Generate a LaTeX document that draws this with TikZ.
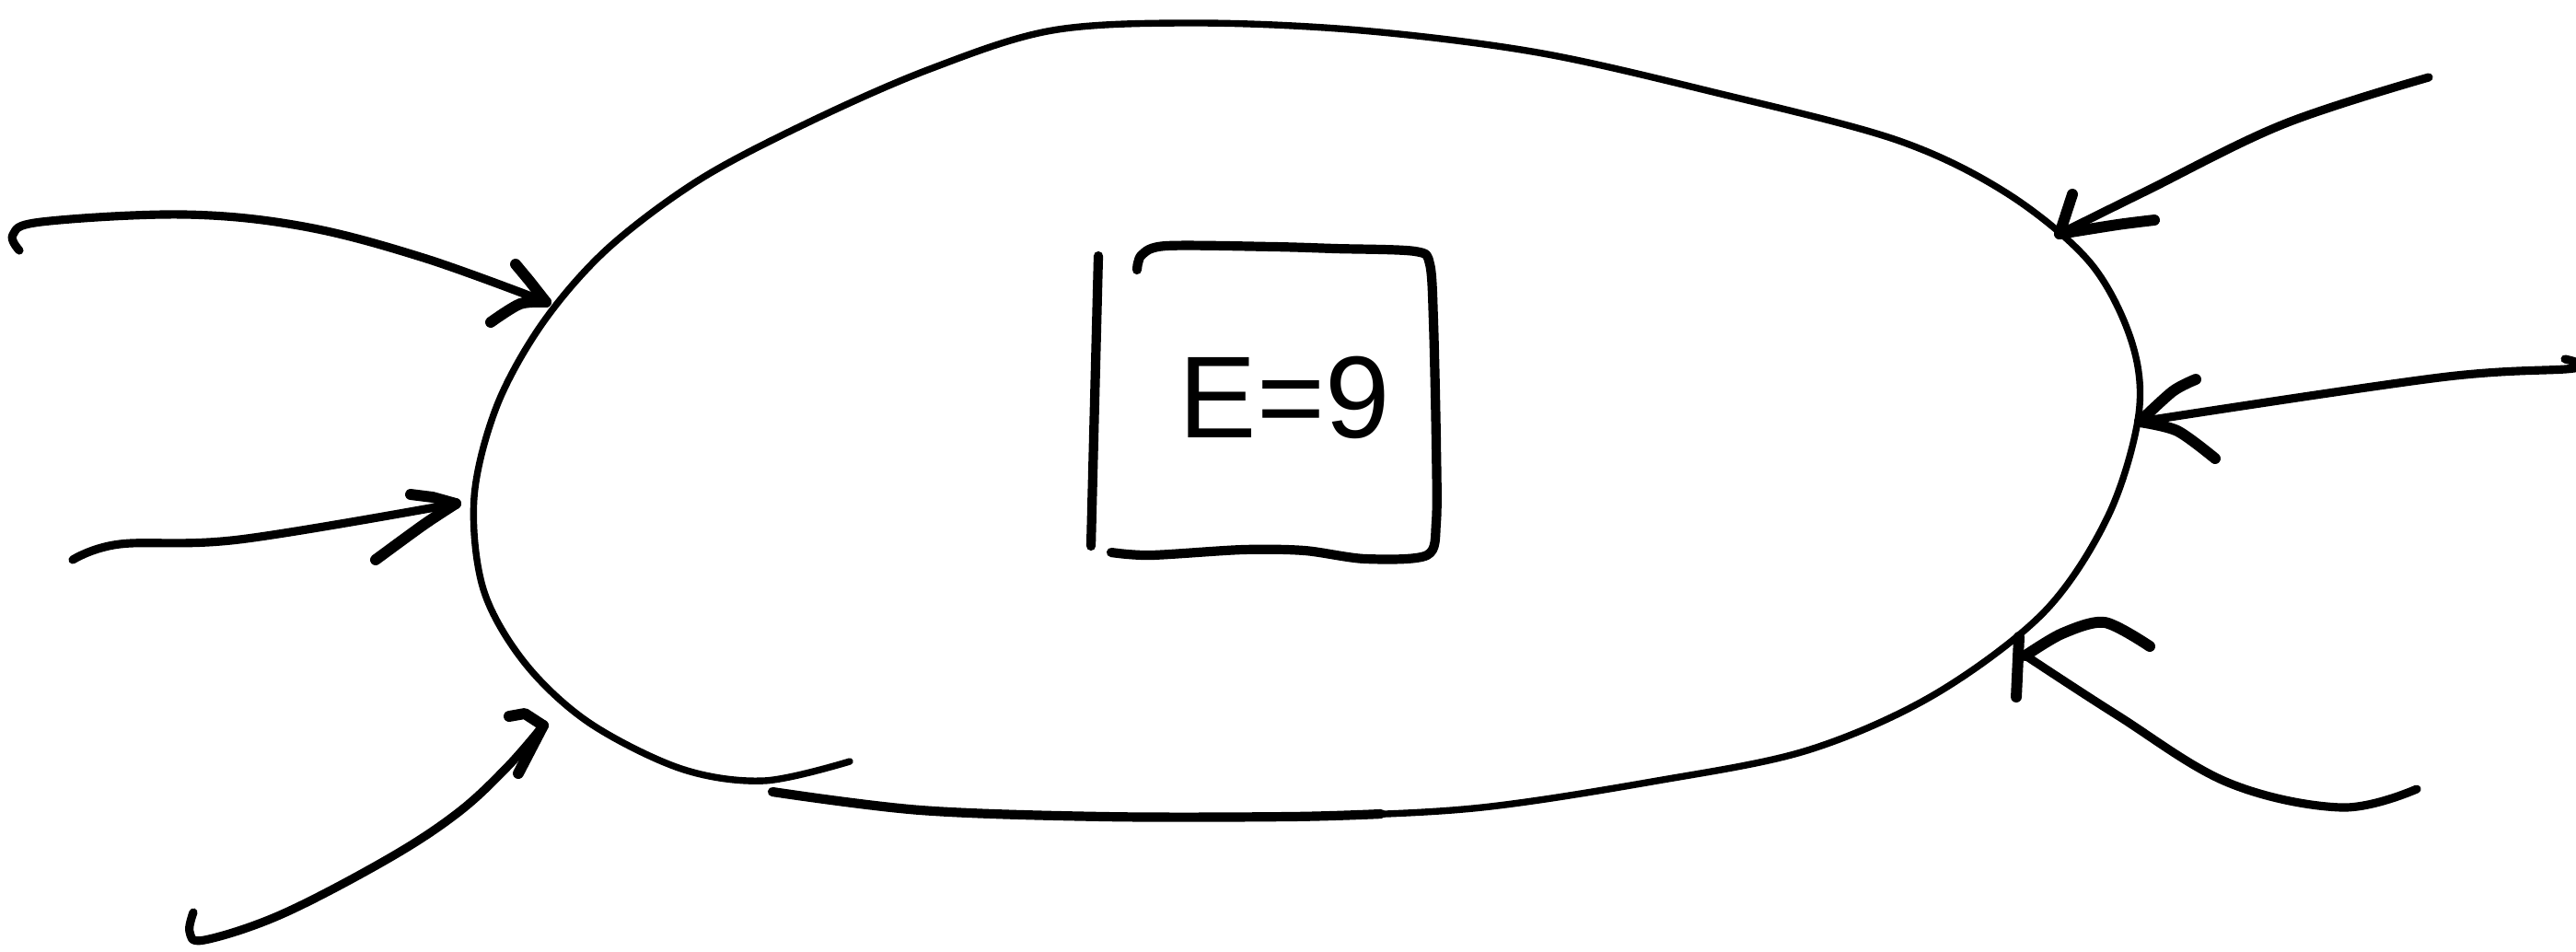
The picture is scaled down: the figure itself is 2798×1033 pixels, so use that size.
\documentclass[tikz,border=0pt]{standalone}
\usepackage{fontspec}
\setsansfont{Liberation Sans}
\begin{document}
\begin{tikzpicture}[x=0.01cm,y=-0.01cm, line cap=round, line join=round,
  blobline/.style={line width=2.1pt},
  thickline/.style={line width=2.9pt},
  arrowline/.style={line width=2.6pt},
  barb/.style={line width=3.4pt},
  boxline/.style={line width=2.9pt},
  eqtext/.style={font=\sffamily\fontsize{36}{40}\selectfont, inner sep=0pt}]
\useasboundingbox (0,0) rectangle (2798,1033);
\fill[white] (0,0) rectangle (2798,1033);

% blob outline
\draw[blobline] plot[smooth, tension=0.55] coordinates {
 (839,860) (1000,880) (1200,887) (1400,887) (1600,878) (1800,848) (1963,815)
 (2100,755) (2220,665) (2290,560) (2323,450) (2315,370) (2270,285) (2180,210)
 (2060,152) (1861,100) (1670,57) (1478,33) (1300,25) (1143,33) (1010,75)
 (880,132) (760,195) (660,270) (590,350) (540,440) (515,540) (525,640)
 (570,720) (640,785) (740,835) (830,848) (923,827)};
\draw[thickline] plot[smooth, tension=0.55] coordinates {
 (839,860) (1000,880) (1200,887) (1400,887) (1500,884)};

% framed equation
\node[eqtext] (eq) at (1395,432) {E=9};
\draw[boxline] (1193,278) -- (1185,593);
\draw[boxline] plot[smooth, tension=0.5] coordinates {
 (1235,293) (1240,277) (1267,267) (1383,268) (1450,270) (1537,273) (1553,287)
 (1557,350) (1560,483) (1560,567) (1550,603) (1483,607) (1417,598) (1350,597)
 (1250,603) (1207,600)};

% arrow 1 (upper left)
\coordinate (s1) at (21,272);
\coordinate (t1) at (593,328);
\draw[arrowline] plot[smooth, tension=0.6] coordinates {
 (s1) (14,255) (45,241) (200,233) (330,246) (460,280) (t1)};
\draw[barb] (t1) -- (575,305) -- (560,287);
\draw[barb] plot[smooth] coordinates {(t1) (565,330) (533,350)};

% arrow 2 (middle left)
\coordinate (s2) at (79,608);
\coordinate (t2) at (495,547);
\draw[arrowline] plot[smooth, tension=0.6] coordinates {
 (s2) (130,591) (260,586) (t2)};
\draw[barb] (t2) -- (470,540) -- (446,537);
\draw[barb] plot[smooth] coordinates {(t2) (460,570) (408,608)};

% arrow 3 (lower left)
\coordinate (s3) at (210,991);
\coordinate (t3) at (590,788);
\draw[arrowline] plot[smooth, tension=0.6] coordinates {
 (s3) (206,1012) (222,1021) (306,993) (421,933) (497,883) (551,833) (t3)};
\draw[barb] (t3) -- (570,775) -- (553,778);
\draw[barb] (t3) -- (563,840);

% arrow 4 (upper right)
\coordinate (s4) at (2638,84);
\coordinate (t4) at (2237,254);
\draw[arrowline] plot[smooth, tension=0.6] coordinates {
 (s4) (2480,135) (2330,208) (t4)};
\draw[barb] (t4) -- (2251,211);
\draw[barb] plot[smooth] coordinates {(t4) (2300,244) (2340,239)};

% arrow 5 (middle right)
\coordinate (s5) at (2786,390);
\coordinate (t5) at (2324,458);
\draw[arrowline] plot[smooth, tension=0.6] coordinates {
 (s5) (2796,400) (2650,410) (t5)};
\draw[barb] plot[smooth] coordinates {(t5) (2360,425) (2385,412)};
\draw[barb] plot[smooth] coordinates {(t5) (2365,468) (2406,498)};

% arrow 6 (lower right)
\coordinate (s6) at (2625,857);
\coordinate (t6) at (2200,712);
\draw[arrowline] plot[smooth, tension=0.6] coordinates {
 (s6) (2543,877) (2420,850) (2300,777) (t6)};
\draw[barb] (2193,692) -- (2190,757);
\draw[barb] plot[smooth] coordinates {(t6) (2240,688) (2286,676) (2335,702)};
\end{tikzpicture}
\end{document}
